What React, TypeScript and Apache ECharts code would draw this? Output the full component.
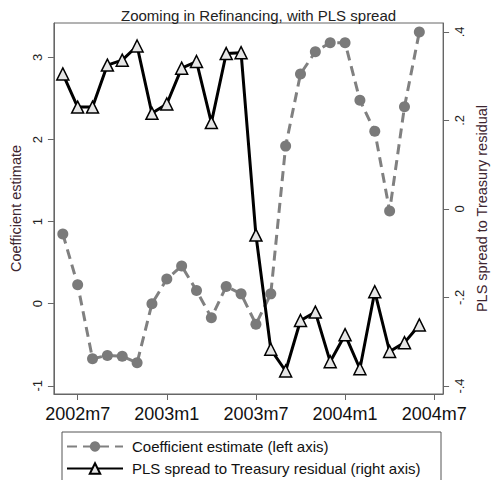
import React, { useEffect, useRef } from "react";
import * as echarts from "echarts";

const months = [
  "2002m6", "2002m7", "2002m8", "2002m9", "2002m10", "2002m11", "2002m12",
  "2003m1", "2003m2", "2003m3", "2003m4", "2003m5", "2003m6", "2003m7",
  "2003m8", "2003m9", "2003m10", "2003m11", "2003m12", "2004m1", "2004m2",
  "2004m3", "2004m4", "2004m5", "2004m6",
];
const coefficientEstimate = [
  0.85, 0.23, -0.67, -0.63, -0.64, -0.72, 0.0, 0.3, 0.46, 0.16, -0.17, 0.21, 0.12,
  -0.25, 0.12, 1.92, 2.8, 3.07, 3.18, 3.18, 2.48, 2.1, 1.13, 2.4, 3.31,
];
const plsSpread = [
  0.305, 0.23, 0.23, 0.325, 0.336, 0.368, 0.216, 0.237, 0.318, 0.333, 0.195, 0.351,
  0.353, -0.059, -0.317, -0.366, -0.252, -0.233, -0.345, -0.284, -0.361, -0.187,
  -0.322, -0.302, -0.262,
];
const xTickLabels = ["2002m7", "2003m1", "2003m7", "2004m1", "2004m7"];
const leftTicks = [-1, 0, 1, 2, 3];
const rightTicks = [-0.4, -0.2, 0, 0.2, 0.4];
const rightTickLabels = ["-.4", "-.2", "0", ".2", ".4"];

const monthIndex = (s: string) => {
  const [y, m] = s.split("m").map(Number);
  return y * 12 + m - (2002 * 12 + 7);
};

const FONT = "'Liberation Sans', Arial, sans-serif";
const AXIS_COLOR = "#666";
const TITLE_COLOR = "#3d2530";

export default function App() {
  const ref = useRef<HTMLDivElement>(null);
  useEffect(() => {
    if (!ref.current) return;
    const chart = echarts.init(ref.current, undefined, { renderer: "svg" });
    const xTickValues = xTickLabels.map(monthIndex);
    const coefData = months.map((m, i) => [monthIndex(m), coefficientEstimate[i]]);
    const plsData = months.map((m, i) => [monthIndex(m), plsSpread[i]]);
    chart.setOption({
      animation: false,
      textStyle: { fontFamily: FONT },
      title: {
        text: "Zooming in Refinancing, with PLS spread",
        left: 116,
        top: 3,
        textStyle: { fontSize: 15, fontWeight: "normal", color: "#222", fontFamily: FONT },
      },
      grid: {
        left: 48,
        right: 41,
        top: 23,
        bottom: 86,
        show: true,
        borderColor: AXIS_COLOR,
        borderWidth: 1,
        containLabel: false,
      },
      graphic: [
        {
          type: "rect",
          shape: { x: 62, y: 432, width: 379, height: 70 },
          style: { fill: "#fff", stroke: "#555", lineWidth: 1 },
          z: 0,
        },
      ],
      legend: {
        orient: "vertical",
        left: 66,
        top: 439,
        itemWidth: 56,
        itemHeight: 13,
        itemGap: 7,
        padding: 0,
        z: 10,
        textStyle: { fontSize: 15, color: "#111", fontFamily: FONT, padding: [0, 0, 0, 4] },
        data: [
          "Coefficient estimate (left axis)",
          "PLS spread to Treasury residual (right axis)",
        ],
      },
      xAxis: {
        type: "value",
        min: -1.6,
        max: 24.6,
        axisLine: { show: true, onZero: false, lineStyle: { color: AXIS_COLOR, width: 1 } },
        axisTick: {
          show: true,
          customValues: xTickValues,
          length: 6,
          lineStyle: { color: AXIS_COLOR },
        },
        axisLabel: {
          customValues: xTickValues,
          fontSize: 18,
          color: "#111",
          margin: 11,
          formatter: (v: number) => xTickLabels[xTickValues.indexOf(Math.round(v))] ?? "",
        },
        splitLine: { show: false },
      },
      yAxis: [
        {
          type: "value",
          position: "left",
          min: -1.1,
          max: 3.42,
          name: "Coefficient estimate",
          nameLocation: "middle",
          nameRotate: 90,
          nameGap: 25,
          nameTextStyle: { fontSize: 14.5, color: TITLE_COLOR, fontFamily: FONT },
          axisLine: { show: true, onZero: false, lineStyle: { color: AXIS_COLOR, width: 1 } },
          axisTick: {
            show: true,
            customValues: leftTicks,
            length: 6,
            lineStyle: { color: AXIS_COLOR },
          },
          axisLabel: {
            customValues: leftTicks,
            rotate: 90,
            fontSize: 13,
            color: "#222",
            margin: 10,
            formatter: (v: number) => String(Math.round(v)),
          },
          splitLine: { show: false },
        },
        {
          type: "value",
          position: "right",
          min: -0.418,
          max: 0.42,
          name: "PLS spread to Treasury residual",
          nameLocation: "middle",
          nameRotate: 90,
          nameGap: 26,
          nameTextStyle: { fontSize: 14.5, color: TITLE_COLOR, fontFamily: FONT },
          axisLine: { show: true, onZero: false, lineStyle: { color: AXIS_COLOR, width: 1 } },
          axisTick: {
            show: true,
            customValues: rightTicks,
            length: 6,
            lineStyle: { color: AXIS_COLOR },
          },
          axisLabel: {
            customValues: rightTicks,
            rotate: 90,
            fontSize: 13,
            color: "#222",
            margin: 10,
            formatter: (v: number) => {
              const i = rightTicks.findIndex((t) => Math.abs(t - v) < 1e-6);
              return i >= 0 ? rightTickLabels[i] : "";
            },
          },
          splitLine: { show: false },
        },
      ],
      series: [
        {
          name: "Coefficient estimate (left axis)",
          type: "line",
          yAxisIndex: 0,
          data: coefData,
          symbol: "circle",
          symbolSize: 11,
          lineStyle: { color: "#808080", width: 3, type: [10, 6] },
          itemStyle: { color: "#7a7a7a" },
          z: 2,
        },
        {
          name: "PLS spread to Treasury residual (right axis)",
          type: "line",
          yAxisIndex: 1,
          data: plsData,
          symbol: "triangle",
          symbolSize: 12,
          lineStyle: { color: "#000", width: 3 },
          itemStyle: { color: "#e6e6e6", borderColor: "#000", borderWidth: 1.5 },
          z: 3,
        },
      ],
    });
    return () => chart.dispose();
  }, []);
  return (
    <div
      ref={ref}
      style={{ position: "fixed", left: 0, top: 0, width: 497, height: 480, background: "#fff" }}
    />
  );
}
